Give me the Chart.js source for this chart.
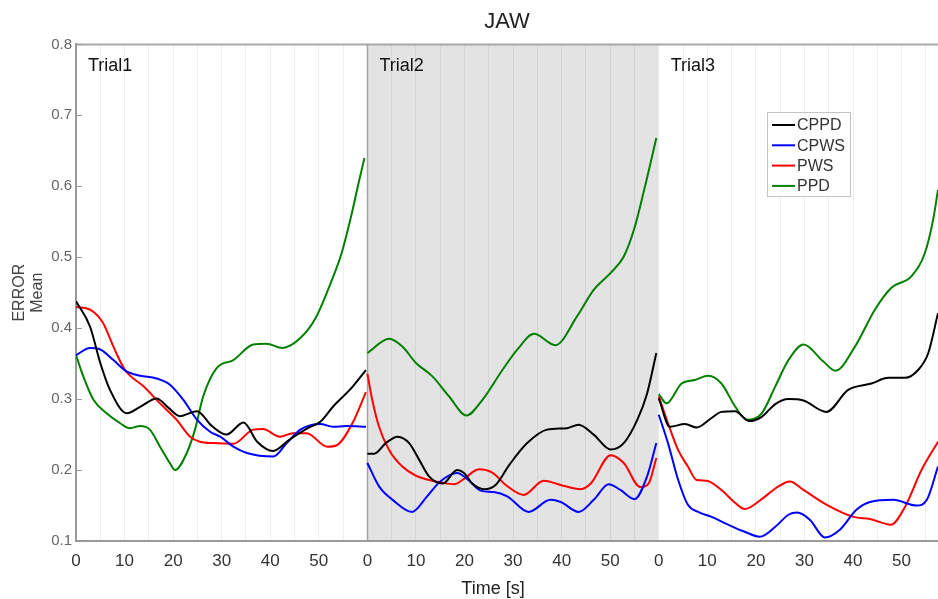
<!DOCTYPE html>
<html>
<head>
<meta charset="utf-8">
<title>JAW</title>
<script src="https://cdn.jsdelivr.net/npm/chart.js@4/dist/chart.umd.min.js"></script>
<style>
  html, body { margin: 0; background: #fff; }
  canvas { display: block; }
</style>
</head>
<body>
<canvas id="jawChart" width="938" height="599"></canvas>
<script>
// each trial is plotted on a shared time axis, offset by its start (s)
const trialStart = [0, 60, 120];
const trialNames = ['Trial1', 'Trial2', 'Trial3'];
const seriesNames = ['CPPD', 'CPWS', 'PWS', 'PPD'];
const seriesColors = ['#000000', '#0000ff', '#ff0000', '#008000'];
const yTicks = [0.1, 0.2, 0.3, 0.4, 0.5, 0.6, 0.7, 0.8];

// [time within trial (s), mean error]
const cppdTrial1 = [[0,0.438],[2.9,0.402],[5,0.351],[7,0.313],[10.5,0.28],[13.2,0.289],[16.6,0.301],[19,0.288],[21.4,0.276],[24.9,0.283],[28,0.262],[31,0.25],[34.5,0.267],[37.3,0.24],[40.6,0.227],[44,0.243],[48,0.26],[50.3,0.268],[53,0.29],[56.5,0.314],[59.7,0.341]];
const cppdTrial2 = [[0,0.223],[1.4,0.223],[3.8,0.238],[6.2,0.247],[8.6,0.238],[10.7,0.214],[12.7,0.191],[15.5,0.181],[18.5,0.2],[19.9,0.196],[21.6,0.181],[24,0.173],[26.4,0.179],[29.3,0.208],[32.9,0.238],[37,0.257],[41.1,0.259],[43.5,0.264],[46.6,0.25],[50.1,0.229],[52.8,0.238],[55.6,0.271],[57.6,0.308],[59.5,0.365]];
const cppdTrial3 = [[0,0.301],[2.3,0.261],[5.4,0.265],[7.8,0.26],[10.8,0.273],[12.9,0.282],[15.7,0.283],[18.7,0.269],[21.2,0.275],[24,0.293],[26.7,0.3],[29.8,0.298],[34.5,0.282],[39,0.313],[43.8,0.322],[47.3,0.33],[50.7,0.33],[53.4,0.341],[55.5,0.365],[57.5,0.421]];

const cpwsTrial1 = [[0,0.362],[2.9,0.372],[5,0.37],[7.7,0.355],[10.4,0.339],[13.2,0.333],[16.6,0.329],[19.4,0.32],[22.1,0.299],[24.9,0.271],[27.6,0.254],[29.7,0.247],[32.4,0.233],[35.2,0.224],[40.6,0.219],[43.4,0.238],[46.2,0.257],[50.3,0.265],[52.9,0.261],[55.7,0.262],[59.7,0.261]];
const cpwsTrial2 = [[0,0.21],[2.4,0.177],[5.2,0.158],[9.2,0.141],[12.3,0.163],[15,0.184],[18.5,0.196],[20.5,0.188],[23.3,0.171],[26,0.169],[28.8,0.163],[33.2,0.141],[37.7,0.158],[39.8,0.155],[43.5,0.141],[46.6,0.158],[49.7,0.18],[52.1,0.172],[55,0.159],[57.6,0.191],[59.5,0.238]];
const cpwsTrial3 = [[0,0.278],[1.9,0.238],[4,0.186],[6,0.151],[8.1,0.141],[10.9,0.134],[14.3,0.123],[17.7,0.113],[20.8,0.106],[24,0.12],[26.7,0.137],[28.5,0.14],[31.1,0.13],[34.2,0.105],[37.3,0.116],[40.7,0.144],[43.5,0.155],[48.3,0.158],[53.1,0.15],[55.2,0.158],[57.5,0.205]];

const pwsTrial1 = [[0,0.43],[2.9,0.426],[5.6,0.407],[7.7,0.374],[10.1,0.341],[13.9,0.318],[17.3,0.294],[20.7,0.271],[23.5,0.247],[25.5,0.24],[28.3,0.238],[32.4,0.237],[36.5,0.257],[38.5,0.258],[42,0.247],[44.7,0.252],[47.5,0.252],[51.7,0.233],[53.7,0.235],[57,0.267],[59.7,0.31]];
const pwsTrial2 = [[0,0.336],[1,0.299],[2.4,0.261],[4.5,0.228],[7.2,0.205],[10,0.192],[12.7,0.186],[15.5,0.182],[17.9,0.18],[19.6,0.186],[23,0.201],[25.8,0.196],[28.5,0.179],[32.2,0.165],[36.3,0.185],[39.8,0.179],[43.9,0.173],[46,0.181],[50.1,0.221],[52.8,0.21],[56.2,0.176],[57.9,0.181],[59.5,0.217]];
const pwsTrial3 = [[0,0.304],[1.9,0.266],[4,0.228],[6,0.205],[7.8,0.186],[9.8,0.185],[12.9,0.172],[15.7,0.154],[17.7,0.145],[21.2,0.159],[24,0.174],[27,0.184],[29.8,0.172],[34.6,0.151],[40.1,0.134],[43.5,0.131],[47.8,0.123],[50.7,0.148],[54.1,0.2],[57.5,0.24]];

const ppdTrial1 = [[0,0.362],[1.5,0.332],[3.6,0.299],[6.3,0.28],[9.1,0.266],[11.1,0.259],[13.2,0.262],[15.2,0.257],[17.3,0.233],[19.4,0.209],[20.4,0.2],[22.8,0.224],[24.5,0.257],[26.2,0.304],[29,0.344],[32.4,0.355],[36.5,0.377],[39.2,0.378],[42.5,0.372],[46.2,0.386],[49.4,0.415],[52.7,0.468],[54.7,0.506],[56.8,0.562],[58.2,0.605],[59.4,0.64]];
const ppdTrial2 = [[0,0.365],[4.5,0.385],[7.2,0.374],[10,0.351],[13.4,0.332],[16.8,0.304],[20.4,0.277],[23.7,0.299],[27.8,0.341],[30.9,0.37],[34.3,0.392],[38.7,0.376],[43.2,0.417],[46.6,0.454],[50.1,0.478],[52.8,0.501],[54.9,0.539],[57,0.595],[59.5,0.668]];
const ppdTrial3 = [[0,0.307],[1.6,0.294],[4.7,0.322],[7.4,0.327],[10.2,0.333],[12.9,0.322],[15.7,0.29],[18.1,0.271],[21.2,0.28],[24,0.318],[26.7,0.355],[29.8,0.377],[33.9,0.353],[36.4,0.34],[40.4,0.374],[44.5,0.426],[47.9,0.457],[52,0.473],[54.8,0.506],[56.5,0.553],[57.5,0.595]];

const seriesTrials = [
    [cppdTrial1, cppdTrial2, cppdTrial3],
    [cpwsTrial1, cpwsTrial2, cpwsTrial3],
    [pwsTrial1, pwsTrial2, pwsTrial3],
    [ppdTrial1, ppdTrial2, ppdTrial3],
];

// join the trials into one line per series, with a gap between trials
function joinTrials(trials) {
    let points = [];
    trials.forEach((trial, i) => {
        if (i > 0) points.push({x: trialStart[i] - 0.05, y: null});
        trial.forEach(p => points.push({x: trialStart[i] + p[0], y: p[1]}));
    });
    return points;
}

let datasets = seriesNames.map((name, i) => ({
    label: name,
    data: joinTrials(seriesTrials[i]),
    borderColor: seriesColors[i],
    borderWidth: 2,
    pointRadius: 0,
    cubicInterpolationMode: 'monotone',
    spanGaps: false,
}));

const FONT = 'Liberation Sans, Arial, sans-serif';

const trialPlugin = {
    id: 'trials',
    beforeDraw(chart) {
        const {ctx, chartArea, scales: {x}} = chart;
        let l = x.getPixelForValue(trialStart[1]);
        let r = x.getPixelForValue(trialStart[2]);
        ctx.save();
        ctx.fillStyle = '#e3e3e3';
        ctx.fillRect(l, chartArea.top, r - l, chartArea.bottom - chartArea.top);
        ctx.restore();
    },
    beforeDatasetsDraw(chart) {
        const {ctx, chartArea, scales: {x, y}} = chart;
        ctx.save();
        // left edge of the shaded trial
        let l = Math.round(x.getPixelForValue(trialStart[1])) + 0.5;
        ctx.strokeStyle = '#a3a3a3';
        ctx.lineWidth = 1.5;
        ctx.beginPath();
        ctx.moveTo(l, chartArea.top);
        ctx.lineTo(l, chartArea.bottom);
        ctx.stroke();
        // top frame
        ctx.strokeStyle = '#a8a8a8';
        ctx.lineWidth = 2;
        ctx.beginPath();
        ctx.moveTo(chartArea.left, chartArea.top);
        ctx.lineTo(chartArea.right, chartArea.top);
        ctx.stroke();
        // y ticks pointing into the plot
        ctx.strokeStyle = '#999999';
        ctx.lineWidth = 1;
        yTicks.forEach(v => {
            let py = Math.round(y.getPixelForValue(v)) + 0.5;
            ctx.beginPath();
            ctx.moveTo(chartArea.left, py);
            ctx.lineTo(chartArea.left + 6, py);
            ctx.stroke();
        });
        ctx.restore();
    },
    afterDraw(chart) {
        const {ctx, chartArea, scales: {x}} = chart;
        ctx.save();
        // trial names
        ctx.fillStyle = '#111111';
        ctx.font = '18px ' + FONT;
        ctx.textBaseline = 'middle';
        trialNames.forEach((name, i) => {
            ctx.fillText(name, x.getPixelForValue(trialStart[i]) + 12, chartArea.top + 22);
        });

        // legend
        let lx = 767, ly = 112, lw = 83, lh = 84;
        ctx.fillStyle = '#ffffff';
        ctx.fillRect(lx, ly, lw, lh);
        ctx.strokeStyle = '#c4c4c4';
        ctx.lineWidth = 1;
        ctx.strokeRect(lx + 0.5, ly + 0.5, lw, lh);
        ctx.font = '16px ' + FONT;
        chart.data.datasets.forEach((ds, i) => {
            let ry = ly + 13 + i * 20.3;
            ctx.strokeStyle = ds.borderColor;
            ctx.lineWidth = 2;
            ctx.beginPath();
            ctx.moveTo(lx + 5, ry);
            ctx.lineTo(lx + 28, ry);
            ctx.stroke();
            ctx.fillStyle = '#333333';
            ctx.fillText(ds.label, lx + 30, ry + 1);
        });

        // x axis title
        ctx.fillStyle = '#222222';
        ctx.font = '18px ' + FONT;
        ctx.textAlign = 'center';
        ctx.textBaseline = 'alphabetic';
        ctx.fillText('Time [s]', 493, 594);
        ctx.restore();
    }
};

let canvas = document.getElementById('jawChart').getContext('2d');
let chart = new Chart(canvas, {
    type: 'line',
    data: {datasets: datasets},
    options: {
        responsive: false,
        animation: false,
        layout: {padding: 0},
        plugins: {
            legend: {display: false},
            tooltip: {enabled: false},
            title: {
                display: true,
                text: 'JAW',
                color: '#222222',
                fullSize: false,
                font: {family: FONT, size: 22, weight: 'normal'},
                padding: {top: 9, bottom: 9},
            },
        },
        scales: {
            x: {
                type: 'linear',
                min: 0,
                max: 177.5,
                afterFit: scale => { scale.height = 58; },
                border: {color: '#9a9a9a', width: 2},
                grid: {
                    drawTicks: false,
                    lineWidth: 1,
                    color: ctx => {
                        let v = ctx.tick.value;
                        if (v % 60 === 0) return 'rgba(0,0,0,0)';
                        return (v > 60 && v < 120) ? '#d4d4d4' : '#eeeeee';
                    },
                },
                ticks: {
                    stepSize: 5,
                    includeBounds: false,
                    autoSkip: false,
                    maxRotation: 0,
                    padding: 10,
                    color: '#333333',
                    font: {family: FONT, size: 17},
                    callback: v => (v % 10 === 0 ? String(v % 60) : ''),
                },
            },
            y: {
                min: 0.1,
                max: 0.8,
                afterFit: scale => { scale.width = 76; },
                border: {color: '#9a9a9a', width: 2},
                grid: {drawOnChartArea: false, drawTicks: false},
                ticks: {
                    stepSize: 0.1,
                    padding: 4,
                    color: '#666666',
                    font: {family: FONT, size: 15},
                    callback: v => v.toFixed(1),
                },
                title: {
                    display: true,
                    text: ['ERROR', 'Mean'],
                    color: '#444444',
                    font: {family: FONT, size: 16, lineHeight: 1.15},
                    padding: {top: 10, bottom: 0},
                },
            },
        },
    },
    plugins: [trialPlugin],
});
</script>
</body>
</html>
